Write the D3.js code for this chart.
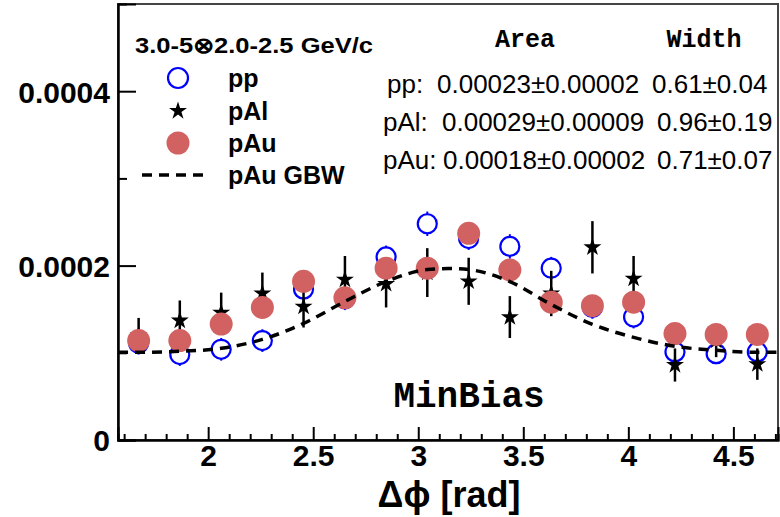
<!DOCTYPE html>
<html>
<head>
<meta charset="utf-8">
<script src="https://cdn.jsdelivr.net/npm/d3@7"></script>
<style>
  body { margin: 0; background: #fff; }
  svg { display: block; }
  text { font-family: "Liberation Sans", Arial, sans-serif; }
</style>
</head>
<body>
<div id="chart"></div>
<script>
// bin centres in delta phi (rad)
var dphi = [1.669, 1.865, 2.062, 2.258, 2.454, 2.651, 2.847, 3.043,
            3.240, 3.436, 3.633, 3.829, 4.025, 4.222, 4.418, 4.614];

var ppVal  = [1.11e-4, 0.98e-4, 1.04e-4, 1.14e-4, 1.73e-4, 1.62e-4, 2.10e-4, 2.48e-4,
              2.31e-4, 2.22e-4, 1.97e-4, 1.52e-4, 1.41e-4, 1.01e-4, 0.99e-4, 1.01e-4];
var ppErr  = [0.13e-4, 0.13e-4, 0.13e-4, 0.13e-4, 0.13e-4, 0.13e-4, 0.13e-4, 0.14e-4,
              0.13e-4, 0.14e-4, 0.13e-4, 0.13e-4, 0.13e-4, 0.12e-4, 0.12e-4, 0.12e-4];

var pAlVal = [1.20e-4, 1.37e-4, 1.46e-4, 1.68e-4, 1.53e-4, 1.84e-4, 1.79e-4, 1.92e-4,
              1.82e-4, 1.41e-4, 1.68e-4, 2.21e-4, 1.85e-4, 0.86e-4, 1.14e-4, 0.87e-4];
var pAlErr = [0.20e-4, 0.23e-4, 0.23e-4, 0.24e-4, 0.24e-4, 0.27e-4, 0.27e-4, 0.28e-4,
              0.27e-4, 0.24e-4, 0.26e-4, 0.30e-4, 0.26e-4, 0.19e-4, 0.19e-4, 0.18e-4];

var pAuVal = [1.14e-4, 1.14e-4, 1.33e-4, 1.52e-4, 1.82e-4, 1.63e-4, 1.97e-4, 1.97e-4,
              2.37e-4, 1.95e-4, 1.58e-4, 1.54e-4, 1.58e-4, 1.22e-4, 1.21e-4, 1.21e-4];
var pAuErr = [0.08e-4, 0.08e-4, 0.08e-4, 0.08e-4, 0.08e-4, 0.08e-4, 0.08e-4, 0.08e-4,
              0.08e-4, 0.08e-4, 0.08e-4, 0.08e-4, 0.08e-4, 0.08e-4, 0.08e-4, 0.08e-4];

// pAu GBW curve
var gbwX = [1.571, 1.669, 1.865, 2.062, 2.258, 2.454, 2.651, 2.847, 3.043, 3.142,
            3.240, 3.436, 3.633, 3.829, 4.025, 4.222, 4.418, 4.614, 4.712];
var gbwY = [1.006e-4, 1.006e-4, 1.017e-4, 1.051e-4, 1.154e-4, 1.337e-4, 1.589e-4, 1.817e-4, 1.954e-4, 1.966e-4,
            1.954e-4, 1.817e-4, 1.554e-4, 1.326e-4, 1.177e-4, 1.074e-4, 1.029e-4, 1.006e-4, 1.006e-4];

var xMajor = [2, 2.5, 3, 3.5, 4, 4.5];
var xMinor = [1.6, 1.7, 1.8, 1.9, 2.1, 2.2, 2.3, 2.4, 2.6, 2.7, 2.8, 2.9, 3.1, 3.2, 3.3, 3.4,
              3.6, 3.7, 3.8, 3.9, 4.1, 4.2, 4.3, 4.4, 4.6, 4.7];
var yMajor = [0, 0.0002, 0.0004];
var yMinor = [0.0001, 0.0003];

var tableRows = [
  { label: "pp:",  area: "0.00023\u00b10.00002", width: "0.61\u00b10.04" },
  { label: "pAl:", area: "0.00029\u00b10.00009", width: "0.96\u00b10.19" },
  { label: "pAu:", area: "0.00018\u00b10.00002", width: "0.71\u00b10.07" }
];

var W = 780, H = 517;
var margin = { left: 118, right: 2, top: 4, bottom: 77 };
var red = "#d26262", blue = "#0000ff";

var svg = d3.select("#chart").append("svg")
  .attr("width", W)
  .attr("height", H);

var x = d3.scaleLinear().domain([Math.PI / 2, 3 * Math.PI / 2]).range([margin.left, W - margin.right]);
var y = d3.scaleLinear().domain([0, 0.0005]).range([H - margin.bottom, margin.top]);

var plot = svg.append("g");

// pp open circles
var pp = plot.append("g");
dphi.forEach(function (d, i) {
  pp.append("line")
    .attr("x1", x(d)).attr("x2", x(d))
    .attr("y1", y(ppVal[i] - ppErr[i])).attr("y2", y(ppVal[i] + ppErr[i]))
    .attr("stroke", blue).attr("stroke-width", 2);
  pp.append("circle")
    .attr("cx", x(d)).attr("cy", y(ppVal[i])).attr("r", 9.5)
    .attr("fill", "#fff").attr("stroke", blue).attr("stroke-width", 2.2);
});

// pAl stars
var star = d3.symbol().type(d3.symbolStar).size(100);
var pal = plot.append("g");
dphi.forEach(function (d, i) {
  pal.append("line")
    .attr("x1", x(d)).attr("x2", x(d))
    .attr("y1", y(pAlVal[i] - pAlErr[i])).attr("y2", y(pAlVal[i] + pAlErr[i]))
    .attr("stroke", "#000").attr("stroke-width", 2.5);
  pal.append("path")
    .attr("d", star)
    .attr("transform", "translate(" + x(d) + "," + y(pAlVal[i]) + ")")
    .attr("fill", "#000");
});

// pAu filled circles
var pau = plot.append("g");
dphi.forEach(function (d, i) {
  pau.append("line")
    .attr("x1", x(d)).attr("x2", x(d))
    .attr("y1", y(pAuVal[i] - pAuErr[i])).attr("y2", y(pAuVal[i] + pAuErr[i]))
    .attr("stroke", red).attr("stroke-width", 2);
  pau.append("circle")
    .attr("cx", x(d)).attr("cy", y(pAuVal[i])).attr("r", 11.5)
    .attr("fill", red);
});

// GBW dashed line
var line = d3.line()
  .x(function (d) { return x(d[0]); })
  .y(function (d) { return y(d[1]); })
  .curve(d3.curveMonotoneX);
plot.append("path")
  .datum(gbwX.map(function (d, i) { return [d, gbwY[i]]; }))
  .attr("d", line)
  .attr("fill", "none")
  .attr("stroke", "#000")
  .attr("stroke-width", 3.5)
  .attr("stroke-dasharray", "10,7");

// frame
svg.append("rect")
  .attr("x", margin.left).attr("y", margin.top)
  .attr("width", W - margin.right - margin.left)
  .attr("height", H - margin.bottom - margin.top)
  .attr("fill", "none").attr("stroke", "#444").attr("stroke-width", 2);

// axes, ticks pointing inward
var xAxis = svg.append("g")
  .attr("transform", "translate(0," + (H - margin.bottom) + ")")
  .call(d3.axisBottom(x).tickValues(xMajor).tickSize(-13).tickPadding(20)
    .tickFormat(d3.format("")));
svg.append("g")
  .attr("transform", "translate(0," + (H - margin.bottom) + ")")
  .call(d3.axisBottom(x).tickValues(xMinor).tickSize(-6).tickFormat(""));

var yAxis = svg.append("g")
  .attr("transform", "translate(" + margin.left + ",0)")
  .call(d3.axisLeft(y).tickValues(yMajor).tickSize(-18).tickPadding(8)
    .tickFormat(function (d) { return d === 0 ? "0" : d.toFixed(4); }));
svg.append("g")
  .attr("transform", "translate(" + margin.left + ",0)")
  .call(d3.axisLeft(y).tickValues(yMinor).tickSize(-9).tickFormat(""));

svg.selectAll(".domain").attr("stroke", "#000").attr("stroke-width", 2);
svg.selectAll(".tick line").attr("stroke", "#000").attr("stroke-width", 2);
svg.selectAll(".tick text")
  .attr("fill", "#000")
  .style("font-family", "'Liberation Sans', Arial, sans-serif")
  .style("font-weight", "bold")
  .style("font-size", "30px");
xAxis.selectAll(".tick text").attr("dy", "0.71em").attr("y", 5);
yAxis.selectAll(".tick text").attr("dy", "0.36em");

// axis title
svg.append("text")
  .attr("x", 449).attr("y", 507)
  .attr("text-anchor", "middle")
  .style("font-weight", "bold")
  .style("font-size", "36px")
  .text("\u0394\u03d5 [rad]");

// legend
var legend = svg.append("g");
legend.append("text")
  .attr("x", 135).attr("y", 53)
  .style("font-weight", "bold").style("font-size", "22px")
  .attr("textLength", 238).attr("lengthAdjust", "spacingAndGlyphs")
  .text("3.0-5\u22972.0-2.5 GeV/c");

var legRows = [
  { name: "pp", y: 78 },
  { name: "pAl", y: 111 },
  { name: "pAu", y: 143 },
  { name: "pAu GBW", y: 175 }
];
legRows.forEach(function (r) {
  legend.append("text")
    .attr("x", 228).attr("y", r.y + 9)
    .style("font-weight", "bold").style("font-size", "25px")
    .text(r.name);
});
legend.append("circle").attr("cx", 178).attr("cy", legRows[0].y).attr("r", 10)
  .attr("fill", "none").attr("stroke", blue).attr("stroke-width", 2.2);
legend.append("path").attr("d", star)
  .attr("transform", "translate(178," + legRows[1].y + ")").attr("fill", "#000");
legend.append("circle").attr("cx", 178).attr("cy", legRows[2].y).attr("r", 11.5)
  .attr("fill", red);
legend.append("line")
  .attr("x1", 142).attr("x2", 206)
  .attr("y1", legRows[3].y).attr("y2", legRows[3].y)
  .attr("stroke", "#000").attr("stroke-width", 3.5).attr("stroke-dasharray", "10,7");

// fit table
var table = svg.append("g");
table.append("text").attr("x", 525).attr("y", 47).attr("text-anchor", "middle")
  .style("font-family", "'Liberation Mono', 'Courier New', monospace")
  .style("font-weight", "bold").style("font-size", "25px").text("Area");
table.append("text").attr("x", 704).attr("y", 47).attr("text-anchor", "middle")
  .style("font-family", "'Liberation Mono', 'Courier New', monospace")
  .style("font-weight", "bold").style("font-size", "25px").text("Width");

var rowY = [93, 131, 169];
var labelX = [387, 383, 383], areaX = [437, 442, 443], widthX = [652, 657, 657];
tableRows.forEach(function (r, i) {
  table.append("text").attr("x", labelX[i]).attr("y", rowY[i])
    .style("font-size", "26px").text(r.label);
  table.append("text").attr("x", areaX[i]).attr("y", rowY[i])
    .style("font-size", "26px").text(r.area);
  table.append("text").attr("x", widthX[i]).attr("y", rowY[i])
    .style("font-size", "26px").text(r.width);
});

svg.append("text")
  .attr("x", 469).attr("y", 407).attr("text-anchor", "middle")
  .style("font-family", "'Liberation Mono', 'Courier New', monospace")
  .style("font-weight", "bold").style("font-size", "36px")
  .text("MinBias");
</script>
</body>
</html>
